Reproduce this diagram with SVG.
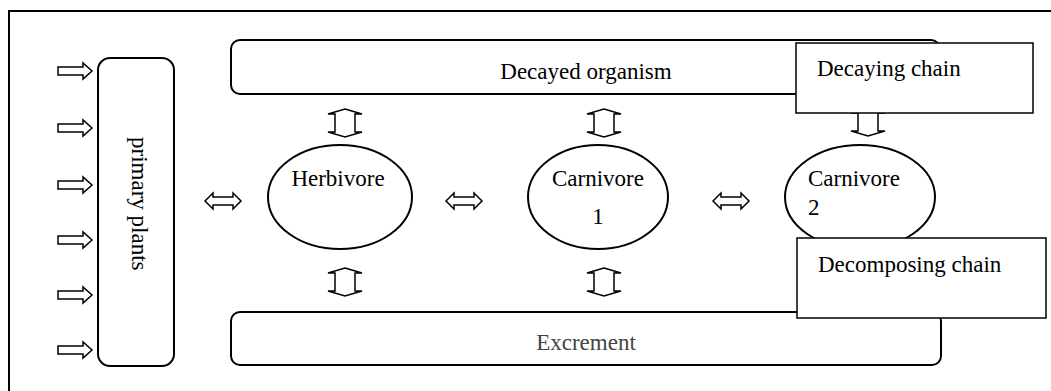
<svg xmlns="http://www.w3.org/2000/svg" width="1051" height="391" viewBox="0 0 1051 391">
<style>
.box{fill:#fff;stroke:#000;stroke-width:2}
.sq{fill:#fff;stroke:#000;stroke-width:1.5}
.arr{fill:#fff;stroke:#000;stroke-width:1.5;stroke-linejoin:miter}
.t{font-family:"Liberation Serif","Times New Roman",serif;font-size:23px;fill:#000}
.g{fill:#444}
</style>
<defs>
<path id="ra" d="M0,-4 H25 V-8 L34,0 L25,8 V4 H0 Z"/>
<path id="ha" d="M-18,0 L-10,-8 V-4 H10 V-8 L18,0 L10,8 V4 H-10 V8 Z"/>
<path id="va" d="M0,-14 L17,-9 H10 V9 H17 L0,14 L-17,9 H-10 V-9 H-17 Z"/>
</defs>
<rect x="9" y="11" width="1050" height="400" fill="#fff" stroke="#000" stroke-width="2"/>
<g id="connectors">
<use href="#ra" x="58" y="71" class="arr"/>
<use href="#ra" x="58" y="128" class="arr"/>
<use href="#ra" x="58" y="185" class="arr"/>
<use href="#ra" x="58" y="240" class="arr"/>
<use href="#ra" x="58" y="295" class="arr"/>
<use href="#ra" x="58" y="350" class="arr"/>
<use href="#ha" x="223" y="201" class="arr"/>
<use href="#ha" x="464" y="201" class="arr"/>
<use href="#ha" x="731" y="201" class="arr"/>
<use href="#va" x="345" y="123" class="arr"/>
<use href="#va" x="604" y="123" class="arr"/>
<use href="#va" x="868" y="122" class="arr"/>
<use href="#va" x="345" y="282" class="arr"/>
<use href="#va" x="604" y="282" class="arr"/>
</g>
<g id="primary-plants">
<rect class="box" x="98" y="58" width="76" height="308" rx="12"/>
<text class="t" transform="translate(132,137) rotate(90)">primary plants</text>
</g>
<g id="decayed-organism">
<rect class="box" x="231" y="40" width="709" height="54" rx="9"/>
<text class="t" x="586" y="79" text-anchor="middle">Decayed organism</text>
</g>
<g id="excrement">
<rect class="box" x="231" y="312" width="710" height="53" rx="9"/>
<text class="t g" x="586" y="350" text-anchor="middle">Excrement</text>
</g>
<g id="herbivore">
<ellipse class="box" cx="340" cy="197" rx="72" ry="52"/>
<text class="t" x="338" y="186" text-anchor="middle">Herbivore</text>
</g>
<g id="carnivore1">
<ellipse class="box" cx="598" cy="197" rx="70" ry="52"/>
<text class="t" x="598" y="186" text-anchor="middle">Carnivore</text>
<text class="t" x="598" y="224" text-anchor="middle">1</text>
</g>
<g id="carnivore2">
<ellipse class="box" cx="860" cy="197" rx="75" ry="52"/>
<text class="t" x="808" y="186">Carnivore</text>
<text class="t" x="808" y="215">2</text>
</g>
<g id="decaying-chain">
<rect class="sq" x="796" y="43" width="237" height="70"/>
<text class="t" x="817" y="76">Decaying chain</text>
</g>
<g id="decomposing-chain">
<rect class="sq" x="797" y="238" width="249" height="80"/>
<text class="t" x="818" y="272">Decomposing chain</text>
</g>
</svg>
